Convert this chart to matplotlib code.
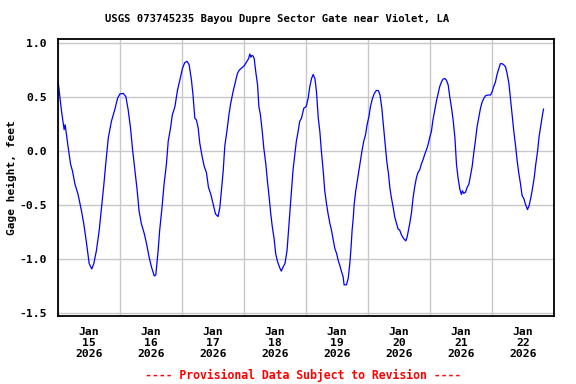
import numpy as np
import pandas as pd
import matplotlib
matplotlib.use("Agg")
import matplotlib.pyplot as plt
import matplotlib.dates as mdates

# hours since 2026-01-15 00:00 and gage height (feet)
hours = [0.0, 1.3, 2.3, 2.7, 3.9, 4.8, 5.5, 6.5, 7.7, 9.0, 9.9, 11.0, 12.0, 13.0,
         13.8, 14.8, 15.9, 16.8, 17.7, 18.4, 19.4, 20.6, 21.9, 23.0, 23.9, 25.2,
         26.2, 27.1, 28.0, 28.8, 29.7, 30.6, 31.3, 32.2, 33.3, 34.2, 35.2, 36.1,
         37.2, 37.8, 38.7, 39.3, 40.2, 41.0, 41.9, 42.6, 43.5, 44.2, 45.2, 46.2,
         47.1, 48.1, 49.0, 49.9, 50.7, 51.6, 52.2, 52.9, 53.5, 54.2, 54.8, 55.7,
         56.5, 57.4, 58.2, 59.1, 60.0, 60.9, 61.9, 62.6, 63.2, 63.9, 64.5, 65.4,
         66.1, 66.8, 67.7, 68.6, 69.4, 70.1, 71.0, 72.0, 72.9, 73.7, 74.2, 74.6,
         75.0, 75.5, 75.9, 76.5, 77.2, 77.7, 78.3, 79.0, 79.6, 80.4, 81.0, 81.7,
         82.3, 82.9, 83.6, 84.2, 84.9, 85.8, 86.4, 87.1, 87.8, 88.6, 89.1, 89.7,
         90.3, 90.9, 91.6, 92.2, 92.9, 93.5, 94.2, 95.1, 96.0, 96.8, 97.4, 98.1,
         98.7, 99.4, 100.0, 100.7, 101.3, 101.9, 102.6, 103.2, 103.9, 104.5, 105.2,
         105.8, 106.5, 107.1, 107.8, 108.4, 109.0, 109.7, 110.3, 110.7, 111.6,
         112.3, 112.9, 113.3, 113.8, 114.2, 114.6, 115.2, 115.7, 116.4, 117.0,
         117.7, 118.3, 119.0, 119.6, 120.3, 120.9, 121.7, 122.4, 123.2, 124.0,
         124.6, 125.3, 125.9, 126.6, 127.2, 127.9, 128.4, 129.0, 129.7, 130.3,
         131.0, 131.6, 132.2, 133.0, 133.8, 134.6, 135.1, 135.6, 136.1, 136.8,
         137.4, 138.1, 138.7, 139.3, 140.0, 140.6, 141.3, 141.9, 142.6, 143.2,
         143.8, 144.5, 145.1, 145.8, 146.4, 147.1, 147.7, 148.4, 149.0, 149.7,
         150.3, 151.0, 151.6, 152.3, 152.9, 153.6, 154.2, 154.8, 155.5, 156.1,
         156.5, 157.0, 157.7, 158.3, 159.0, 159.6, 160.3, 160.9, 161.5, 162.2,
         162.8, 163.5, 164.1, 164.8, 165.5, 166.4, 167.4, 168.0, 168.6, 169.3,
         169.9, 170.6, 171.2, 171.9, 172.5, 173.2, 173.8, 174.5, 175.1, 175.8,
         176.4, 177.1, 177.7, 178.3, 179.0, 179.6, 180.3, 180.9, 181.7, 182.3,
         183.0, 183.6, 184.3, 184.9, 185.6, 186.2, 186.9, 187.5, 187.9]
gage_ft = [0.64, 0.37, 0.20, 0.245, 0.03, -0.12, -0.18, -0.305, -0.40, -0.55, -0.67,
           -0.855, -1.04, -1.09, -1.04, -0.92, -0.73, -0.52, -0.305, -0.12, 0.123,
           0.276, 0.383, 0.49, 0.53, 0.535, 0.505, 0.383, 0.215, 0.015, -0.18,
           -0.366, -0.55, -0.67, -0.76, -0.855, -0.98, -1.07, -1.155, -1.145,
           -0.92, -0.73, -0.52, -0.305, -0.12, 0.092, 0.215, 0.337, 0.413, 0.566,
           0.658, 0.765, 0.82, 0.832, 0.80, 0.658, 0.52, 0.306, 0.29, 0.215, 0.077,
           -0.045, -0.137, -0.198, -0.336, -0.40, -0.49, -0.58, -0.605, -0.52,
           -0.366, -0.18, 0.046, 0.20, 0.337, 0.444, 0.55, 0.642, 0.72, 0.75, 0.77,
           0.79, 0.826, 0.856, 0.90, 0.87, 0.887, 0.88, 0.856, 0.734, 0.612, 0.413,
           0.337, 0.184, 0.031, -0.12, -0.275, -0.43, -0.58, -0.70, -0.81, -0.947,
           -1.02, -1.08, -1.11, -1.07, -1.04, -0.92, -0.76, -0.56, -0.366, -0.18,
           -0.03, 0.092, 0.184, 0.276, 0.306, 0.398, 0.413, 0.49, 0.597, 0.673,
           0.71, 0.673, 0.55, 0.306, 0.184, 0.0, -0.18, -0.366, -0.49, -0.58, -0.67,
           -0.73, -0.82, -0.90, -0.947, -1.01, -1.054, -1.115, -1.16, -1.237,
           -1.237, -1.176, -1.04, -0.92, -0.73, -0.63, -0.49, -0.366, -0.29, -0.18,
           -0.09, 0.015, 0.092, 0.153, 0.245, 0.32, 0.413, 0.49, 0.535, 0.563,
           0.56, 0.52, 0.398, 0.245, 0.06, -0.09, -0.213, -0.336, -0.43, -0.52,
           -0.61, -0.67, -0.72, -0.73, -0.78, -0.81, -0.83, -0.794, -0.73, -0.67,
           -0.565, -0.43, -0.32, -0.244, -0.198, -0.17, -0.12, -0.076, -0.03,
           0.015, 0.06, 0.123, 0.184, 0.29, 0.383, 0.46, 0.535, 0.597, 0.642,
           0.667, 0.673, 0.658, 0.612, 0.505, 0.398, 0.29, 0.123, -0.12, -0.244,
           -0.35, -0.40, -0.366, -0.39, -0.38, -0.336, -0.305, -0.23, -0.137,
           -0.015, 0.092, 0.23, 0.306, 0.398, 0.453, 0.49, 0.514, 0.52, 0.52, 0.55,
           0.597, 0.642, 0.71, 0.765, 0.81, 0.81, 0.80, 0.78, 0.72, 0.627, 0.49,
           0.337, 0.184, 0.046, -0.09, -0.198, -0.305, -0.41, -0.44, -0.49, -0.54,
           -0.505, -0.43, -0.35, -0.244, -0.12, 0.0, 0.138, 0.245, 0.337, 0.39]

ytick_vals = [1.0, 0.5, 0.0, -0.5, -1.0, -1.5]

start = pd.Timestamp("2026-01-15 00:00")
end = pd.Timestamp("2026-01-23 00:00")
times = start + pd.to_timedelta(hours, unit="h")

mono = "DejaVu Sans Mono"

fig = plt.figure(figsize=(5.76, 3.84), dpi=100)
ax = fig.add_axes([0.101, 0.178, 0.861, 0.720])

ax.plot(times, gage_ft, color="#0000ff", linewidth=0.9)

ax.set_xlim(start, end)
ax.set_ylim(-1.522, 1.037)

# gridlines at midnight, labels at noon
ax.xaxis.set_minor_locator(mdates.DayLocator())
ax.xaxis.set_major_locator(mdates.HourLocator(byhour=[12]))
ax.xaxis.set_major_formatter(mdates.DateFormatter("%b\n%d\n%Y"))
ax.set_yticks(ytick_vals)
ax.set_yticklabels([f"{v:.1f}" for v in ytick_vals])

ax.grid(False, which="major", axis="x")
ax.grid(True, which="minor", axis="x", color="#c8c8c8", linewidth=1.0)
ax.grid(True, which="major", axis="y", color="#c8c8c8", linewidth=1.0)
ax.tick_params(axis="both", which="both", length=0)
ax.tick_params(axis="x", pad=8)
ax.tick_params(axis="y", pad=8)
for lab in ax.get_xticklabels() + ax.get_yticklabels():
    lab.set_family(mono)
    lab.set_fontweight("bold")
    lab.set_fontsize(8.2)
for lab in ax.get_xticklabels():
    lab.set_linespacing(1.12)

for sp in ax.spines.values():
    sp.set_linewidth(1.3)
    sp.set_color("black")

ax.set_ylabel("Gage height, feet", family=mono, fontweight="bold", fontsize=8)
ax.yaxis.set_label_coords(-0.083, 0.5)

fig.text(0.481, 0.95, "USGS 073745235 Bayou Dupre Sector Gate near Violet, LA",
         ha="center", va="center", family=mono, fontweight="bold", fontsize=7.6)
fig.text(0.527, 0.023, "---- Provisional Data Subject to Revision ----",
         ha="center", va="center", family=mono, fontweight="bold", fontsize=8.3,
         color="red")

fig.savefig("out.png", dpi=100)
